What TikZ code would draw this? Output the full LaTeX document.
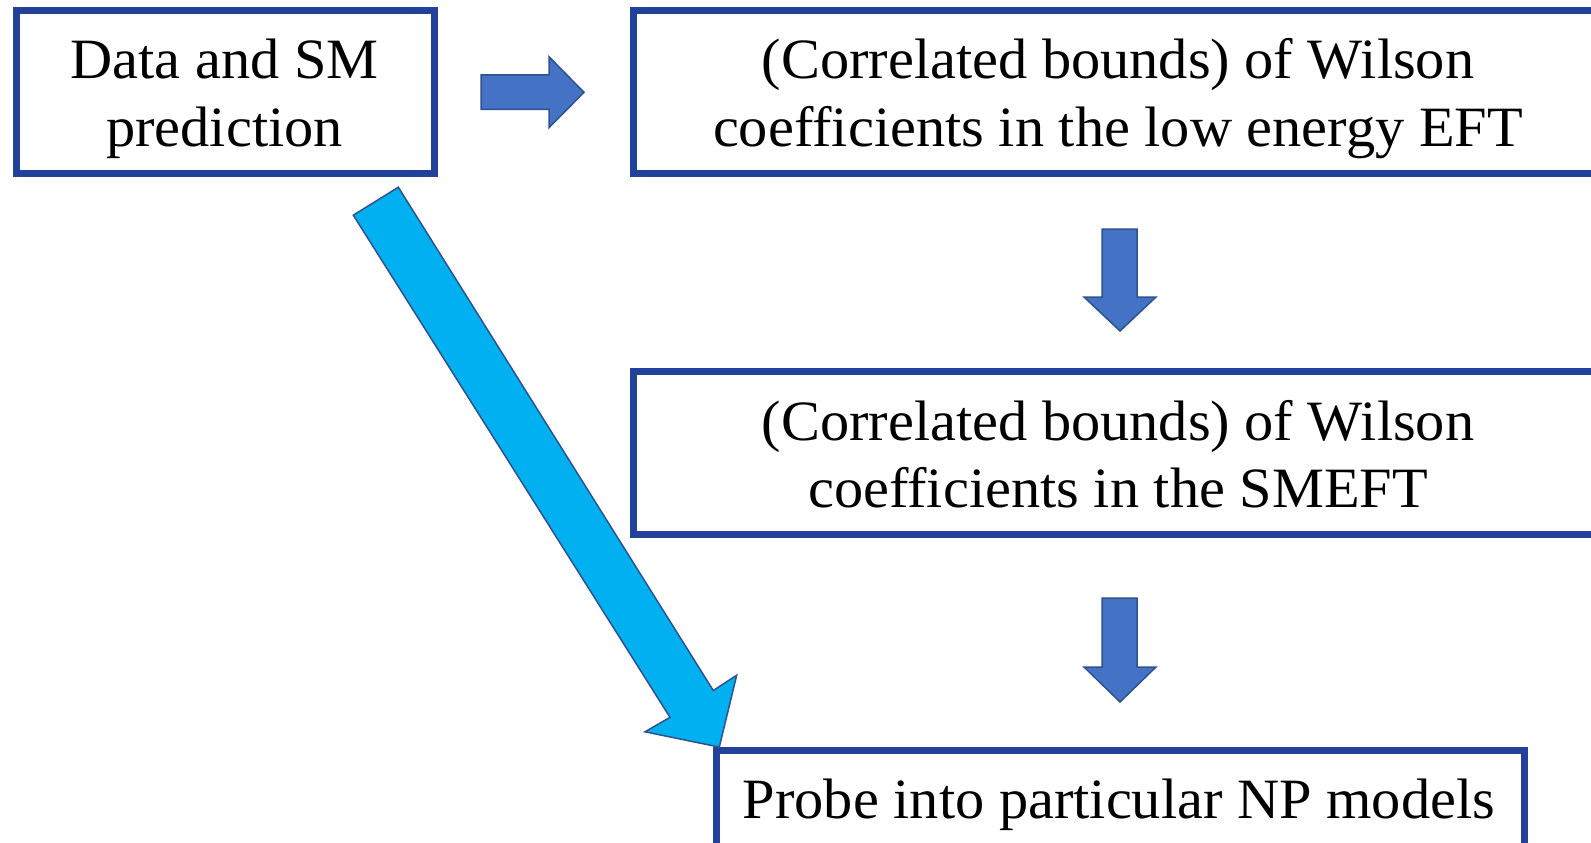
\documentclass[tikz,border=0pt]{standalone}
\usepackage{fontspec}
\setmainfont{Liberation Serif}[FakeStretch=1.024]
\definecolor{boxblue}{HTML}{23419B}
\definecolor{arrfill}{HTML}{4472C4}
\definecolor{arredge}{HTML}{2F528F}
\definecolor{cyanfill}{HTML}{00B0F0}
\begin{document}
\begin{tikzpicture}[x=1pt,y=-1pt,
  box/.style={draw=boxblue,line width=7pt,fill=white,rectangle,inner sep=0pt,outer sep=0pt},
  txt/.style={anchor=base,inner sep=0pt,font=\fontsize{57}{67}\selectfont},
  blockarrow/.style={fill=arrfill,draw=arredge,line width=1.5pt,line join=miter},
  cyanarrow/.style={fill=cyanfill,draw=arredge,line width=1.5pt,line join=miter}]
\useasboundingbox (0,0) rectangle (1591,843);
% boxes
\node[box,minimum width=418pt,minimum height=163pt] (b1) at (225,92) {};
\node[box,minimum width=976pt,minimum height=163pt] (b2) at (1121,92) {};
\node[box,minimum width=976pt,minimum height=162.5pt] (b3) at (1121,452.75) {};
\node[box,minimum width=808pt,minimum height=110pt] (b4) at (1120,805) {};
% texts
\node[txt] (t1a) at (224.5,79) {Data and SM};
\node[txt] (t1b) at (224.5,146) {prediction};
\node[txt] (t2a) at (1118,79) {(Correlated bounds) of Wilson};
\node[txt] (t2b) at (1118,146) {coefficients in the low energy EFT};
\node[txt] (t3a) at (1118,440) {(Correlated bounds) of Wilson};
\node[txt] (t3b) at (1118,507) {coefficients in the SMEFT};
\node[txt] (t4) at (1119,818) {Probe into particular NP models};
% block arrows
\draw[blockarrow] (481,75) -- (549,75) -- (549,56.7) -- (584,92.3) -- (549,127.7) -- (549,109.3) -- (481,109.3) -- cycle;
\draw[blockarrow] (1102,229) -- (1137,229) -- (1137,297) -- (1156,297) -- (1120,331) -- (1084,297) -- (1102,297) -- cycle;
\draw[blockarrow] (1102,598) -- (1137,598) -- (1137,667) -- (1156,667) -- (1120,702) -- (1084,667) -- (1102,667) -- cycle;
% cyan arrow from b1 to b4
\coordinate (ctr) at (398.3,187.2);
\coordinate (ctl) at (353.3,215.2);
\coordinate (ctip) at (719.3,747.1);
\draw[cyanarrow] (ctr) -- (713.3,690.5) -- (736.7,675.2) -- (ctip) -- (645,731.8) -- (670,717.3) -- (ctl) -- cycle;
\end{tikzpicture}
\end{document}
